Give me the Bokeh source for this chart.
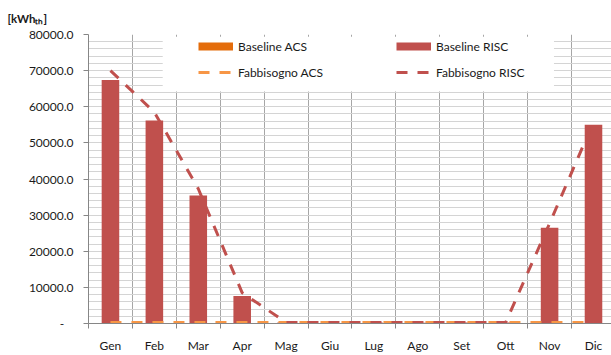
from bokeh.plotting import figure
from bokeh.models import (Range1d, FixedTicker, NumeralTickFormatter, Legend,
                          LegendItem, BoxAnnotation, ColumnDataSource)
from bokeh.embed import file_html
from bokeh.resources import INLINE

# Monthly energy (kWh_th)
months = ["Gen", "Feb", "Mar", "Apr", "Mag", "Giu", "Lug", "Ago", "Set", "Ott", "Nov", "Dic"]
baseline_acs = [100, 100, 100, 100, 100, 100, 100, 100, 100, 100, 100, 100]
baseline_risc = [67400, 56200, 35400, 7600, 250, 200, 250, 200, 250, 250, 26500, 55000]
fabbisogno_acs = [250, 250, 250, 250, 250, 250, 250, 250, 250, 250, 250, 250]
fabbisogno_risc = [70000, 58500, 37300, 8500, 300, 250, 300, 250, 300, 300, 27700, 55800]
y_ticks = list(range(0, 80001, 10000))
y_minor = list(range(0, 80001, 2000))

FONT = "Lato"
TXT = "#1a1a1a"
AXIS = "#868686"

n = len(months)
centers = [float(i) + 0.5 for i in range(n)]
bounds = [float(i) for i in range(n + 1)]

src = ColumnDataSource(dict(x=centers, acs=baseline_acs, risc=baseline_risc,
                            f_acs=fabbisogno_acs, f_risc=fabbisogno_risc))

p = figure(width=611, height=355, output_backend="svg", toolbar_location=None,
           x_range=Range1d(0, 11.91), y_range=Range1d(0, 80000),
           min_border_left=88, min_border_right=0, min_border_top=32,
           min_border_bottom=29, title="[kWhₜₕ]")
p.outline_line_color = None
p.background_fill_color = "white"

# unit label in the title slot, pulled to the left edge of the canvas
p.title.align = "left"
p.title.offset = -81
p.title.standoff = 19
p.title.text_font = FONT
p.title.text_font_size = "11.5px"
p.title.text_font_style = "bold"
p.title.text_color = TXT

# grid: vertical lines between months, light horizontal lines every 2000
p.xgrid.ticker = FixedTicker(ticks=bounds)
p.xgrid.grid_line_color = "#a6a6a6"
p.xgrid.grid_line_width = 1
p.ygrid.ticker = FixedTicker(ticks=y_ticks, minor_ticks=y_minor)
p.ygrid.grid_line_color = "#d4d4d4"
p.ygrid.minor_grid_line_color = "#d4d4d4"
p.ygrid.grid_line_width = 1

# x axis
p.xaxis.ticker = FixedTicker(ticks=centers, minor_ticks=bounds)
p.xaxis.major_label_overrides = {c: m for c, m in zip(centers, months)}
p.xaxis.major_tick_line_color = None
p.xaxis.major_tick_out = 0
p.xaxis.major_tick_in = 0
p.xaxis.minor_tick_line_color = AXIS
p.xaxis.minor_tick_out = 5
p.xaxis.minor_tick_in = 0
p.xaxis.axis_line_color = AXIS
p.xaxis.major_label_standoff = 9
p.xaxis.major_label_text_font = FONT
p.xaxis.major_label_text_font_size = "12px"
p.xaxis.major_label_text_color = TXT

# y axis
p.yaxis.ticker = FixedTicker(ticks=y_ticks)
p.yaxis.formatter = NumeralTickFormatter(format="0.0")
p.yaxis.major_label_overrides = {0: "-\u00a0\u00a0\u00a0"}
p.yaxis.major_tick_out = 5
p.yaxis.major_tick_in = 0
p.yaxis.major_tick_line_color = AXIS
p.yaxis.minor_tick_line_color = None
p.yaxis.axis_line_color = AXIS
p.yaxis.major_label_standoff = 10
p.yaxis.major_label_text_font = FONT
p.yaxis.major_label_text_font_size = "12px"
p.yaxis.major_label_text_color = TXT

# bars
p.vbar(x="x", top="acs", width=0.4, source=src, fill_color="#E46C0A", line_color=None)
p.vbar(x="x", top="risc", width=0.4, source=src, fill_color="#C0504D", line_color=None)

# demand lines
l_acs = p.line(x="x", y="f_acs", source=src, line_color="#F79646", line_width=3,
               line_dash="11 10")
l_risc = p.line(x="x", y="f_risc", source=src, line_color="#C0504D", line_width=3,
                line_dash="11 10")

# flat swatches for the bar series in the key (single NaN point, nothing plotted)
nan_src = ColumnDataSource(dict(x=[float("nan")], y=[float("nan")]))
sw_acs = p.line(x="x", y="y", source=nan_src, line_color="#E46C0A", line_width=8)
sw_risc = p.line(x="x", y="y", source=nan_src, line_color="#C0504D", line_width=8)

# white panel behind the key
p.add_layout(BoxAnnotation(left=1.69, right=10.6, bottom=64200, top=79400,
                           fill_color="white", fill_alpha=1.0, line_color=None))


def make_legend(items, loc):
    lg = Legend(items=items, location=loc, glyph_width=35, glyph_height=16,
                label_height=16, label_standoff=5, spacing=10, padding=0,
                margin=0, border_line_color=None, background_fill_alpha=0,
                label_text_font=FONT, label_text_font_size="12px",
                label_text_color=TXT)
    return lg


p.add_layout(make_legend([LegendItem(label="Baseline ACS", renderers=[sw_acs]),
                          LegendItem(label="Fabbisogno ACS", renderers=[l_acs])],
                         (110, 243)), "center")
p.add_layout(make_legend([LegendItem(label="Baseline RISC", renderers=[sw_risc]),
                          LegendItem(label="Fabbisogno RISC", renderers=[l_risc])],
                         (308, 243)), "center")

open("out.html", "w").write(file_html(p, INLINE))
